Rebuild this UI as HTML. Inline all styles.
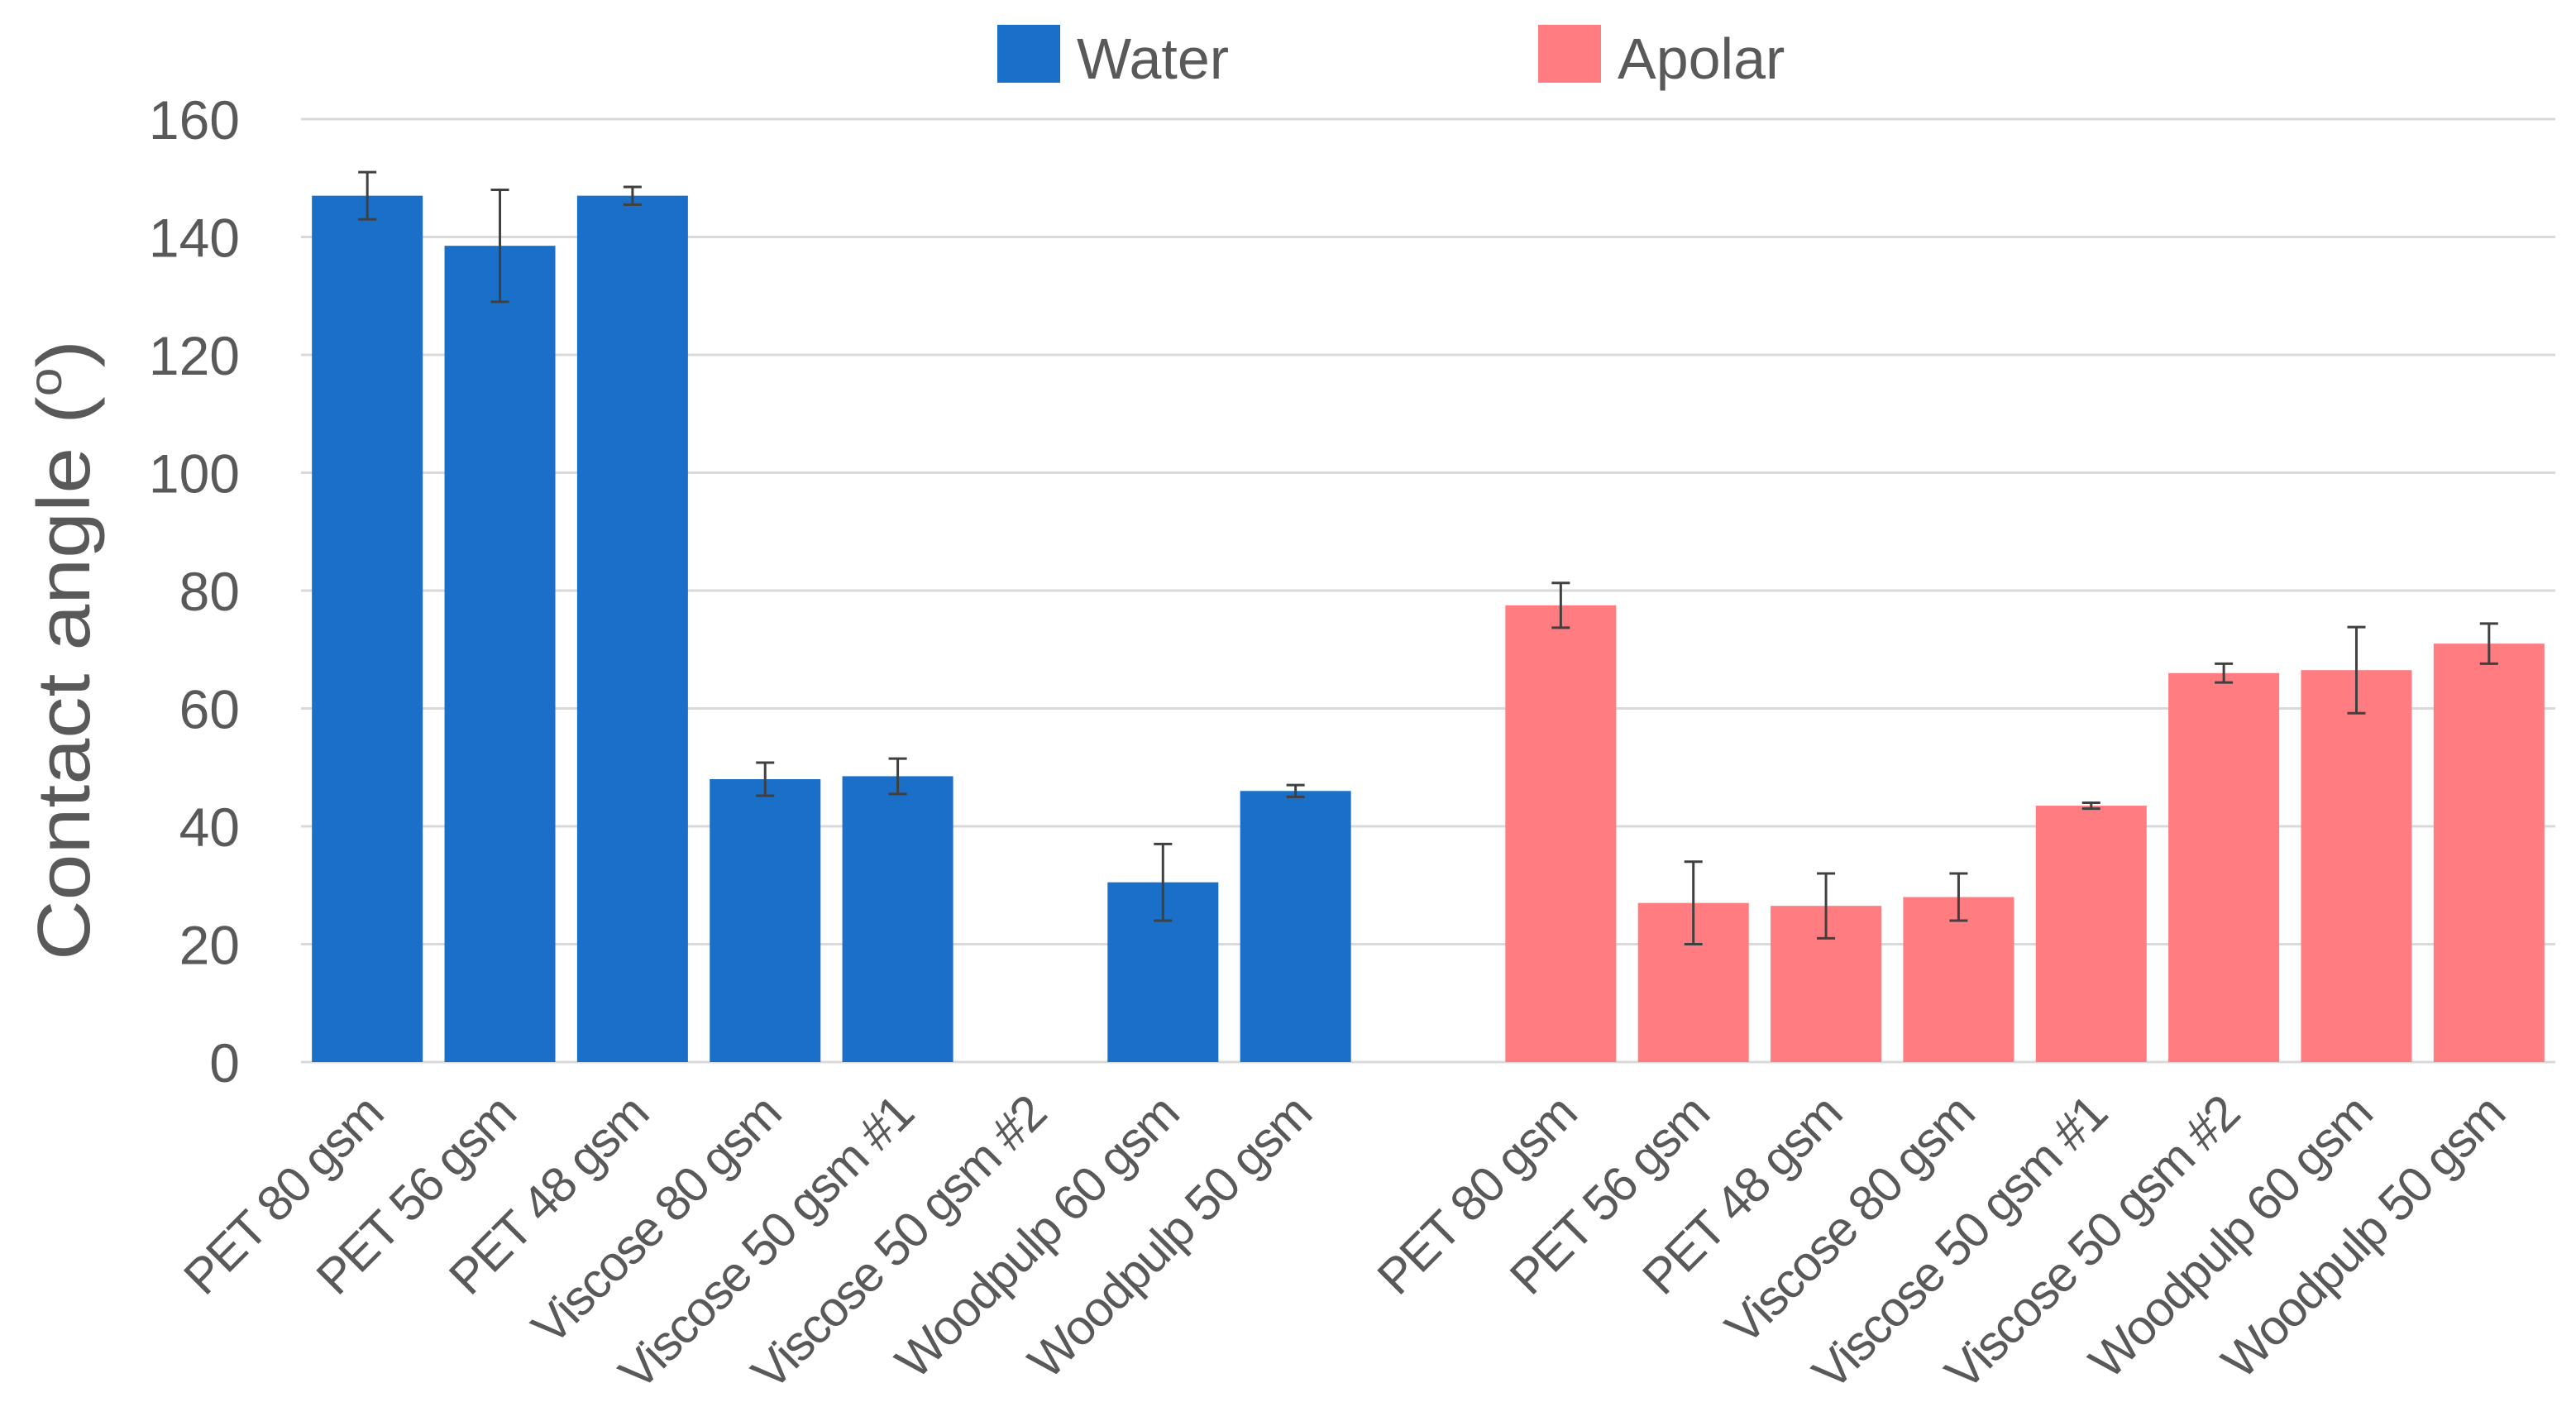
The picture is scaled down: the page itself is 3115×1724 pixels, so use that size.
<!DOCTYPE html>
<html><head><meta charset="utf-8"><style>
html,body{margin:0;padding:0;background:#fff;}
svg{display:block;font-family:"Liberation Sans",sans-serif;}
</style></head><body>
<svg id="chart" width="3115" height="1724" viewBox="0 0 3115 1724" xmlns="http://www.w3.org/2000/svg">
<g id="grid"></g>
<g id="yticks"></g>
<g id="bars"></g>
<g id="errs"></g>
<g id="xlabels"></g>
<text transform="translate(108,786) rotate(-90)" text-anchor="middle" font-size="90" fill="#595959" textLength="750" lengthAdjust="spacingAndGlyphs">Contact angle (<tspan font-size="56" dy="-34">o</tspan><tspan dy="34">)</tspan></text>
<g>
<g>
<rect x="1206" y="30" width="76" height="70" fill="#1a70c8"/>
<text x="1302" y="95" font-size="70" fill="#595959">Water</text></g>
<g>
<rect x="1860" y="30" width="76" height="70" fill="#ff7c80"/>
<text x="1956" y="95" font-size="70" fill="#595959">Apolar</text></g>
</g>
</svg>
<script>
const categories = ["PET 80 gsm","PET 56 gsm","PET 48 gsm","Viscose 80 gsm","Viscose 50 gsm #1","Viscose 50 gsm #2","Woodpulp 60 gsm","Woodpulp 50 gsm"];
const waterValues = [147, 138.5, 147, 48, 48.5, null, 30.5, 46];
const waterErrors = [4, 9.5, 1.5, 2.8, 3, null, 6.5, 1];
const apolarValues = [77.5, 27, 26.5, 28, 43.5, 66, 66.5, 71];
const apolarErrors = [3.8, 7, 5.5, 4, 0.5, 1.6, 7.3, 3.4];
const yTicks = [0, 20, 40, 60, 80, 100, 120, 140, 160];

const NS = "http://www.w3.org/2000/svg";
const plotL = 364, plotR = 3090, y0px = 1284, y160px = 144;
const nSlots = 17, slotW = (plotR - plotL) / nSlots, barW = 134;
function yScale(v){ return y0px - (v / 160) * (y0px - y160px); }
function xSlot(i){ return plotL + slotW * (i + 0.5); }
function mk(tag, attrs, parent){ const e = document.createElementNS(NS, tag); for (const k in attrs) e.setAttribute(k, attrs[k]); parent.appendChild(e); return e; }

const grid = document.getElementById('grid'), yt = document.getElementById('yticks');
yTicks.forEach(t => {
  const l = mk('line', {x1: plotL, x2: plotR, y1: yScale(t), y2: yScale(t), stroke: '#d9d9d9', 'stroke-width': 3}, grid);
  
  
  const tx = mk('text', {x: 290, y: yScale(t) + 24, 'text-anchor': 'end', 'font-size': 66, fill: '#595959'}, yt);
  tx.textContent = t;
  
  
});

const bars = document.getElementById('bars'), errs = document.getElementById('errs'), xl = document.getElementById('xlabels');
function series(vals, errsArr, offset, color, name){
  categories.forEach((c, i) => {
    const slot = i + offset, cx = xSlot(slot);
    const v = vals[i];
    if (v !== null) {
      const r = mk('rect', {x: cx - barW/2, y: yScale(v), width: barW, height: y0px - yScale(v), fill: color}, bars);
      
      
      const e = errsArr[i];
      const g = mk('g', {stroke: '#404040', 'stroke-width': 3}, errs);
      
      
      mk('line', {x1: cx, x2: cx, y1: yScale(v + e), y2: yScale(v - e)}, g);
      mk('line', {x1: cx - 11, x2: cx + 11, y1: yScale(v + e), y2: yScale(v + e)}, g);
      mk('line', {x1: cx - 11, x2: cx + 11, y1: yScale(v - e), y2: yScale(v - e)}, g);
    }
    const lx = cx + 22, ly = 1350;
    const t = mk('text', {x: lx, y: ly, 'text-anchor': 'end', 'font-size': 60, fill: '#595959', 'letter-spacing': '-2', transform: 'rotate(-45 ' + lx + ' ' + ly + ')'}, xl);
    t.textContent = c;
    
    
  });
}
series(waterValues, waterErrors, 0, '#1a70c8', 'water');
series(apolarValues, apolarErrors, 9, '#ff7c80', 'apolar');
</script>
</body></html>
